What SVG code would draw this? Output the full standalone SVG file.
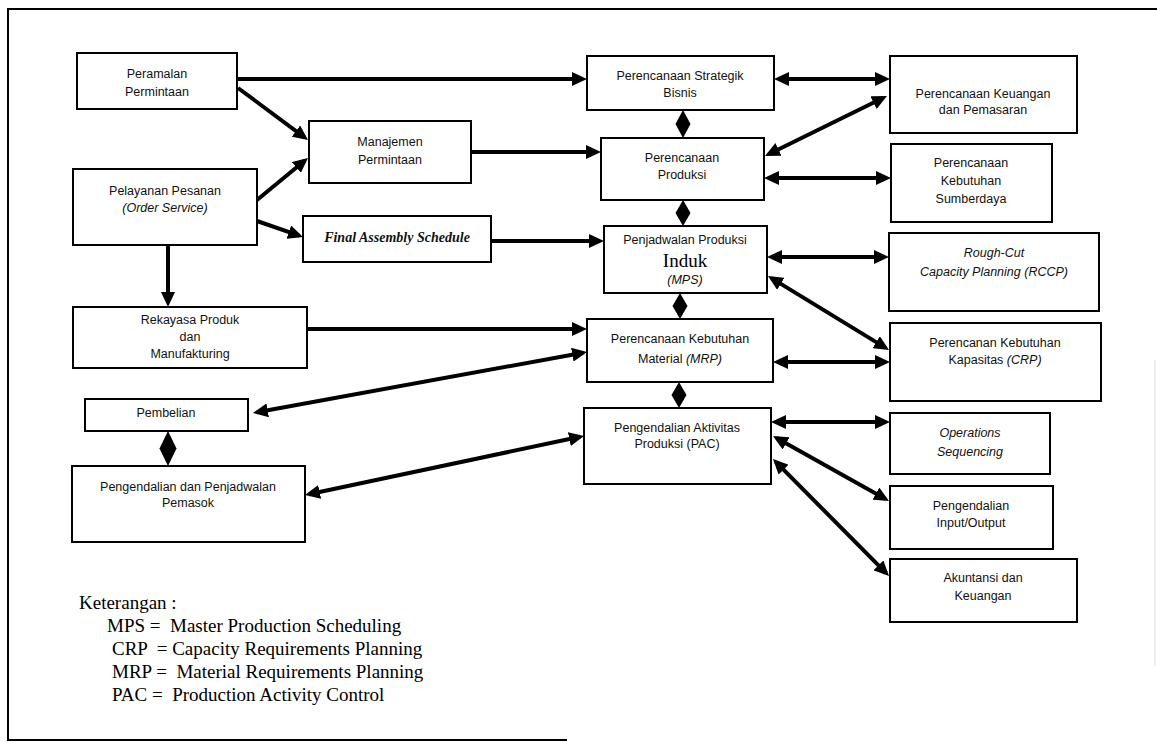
<svg xmlns="http://www.w3.org/2000/svg" width="1157" height="742" viewBox="0 0 1157 742">
<style>
.box{fill:#fff;stroke:#000;stroke-width:2}
.t{font-family:"Liberation Sans",Arial,sans-serif;font-size:12.5px;fill:#111;text-anchor:middle}
.i{font-style:italic}
.fa{font-family:"Liberation Serif","Times New Roman",serif;font-size:14px;font-weight:bold;font-style:italic;fill:#111;text-anchor:middle}
.big{font-family:"Liberation Serif","Times New Roman",serif;font-size:19px;fill:#000;text-anchor:middle}
.c{fill:none;stroke:#000;stroke-width:4}
.e{marker-end:url(#ah)}
.b{marker-start:url(#ah);marker-end:url(#ah)}
.dia{fill:#000}
.leg{font-family:"Liberation Serif","Times New Roman",serif;font-size:19px;fill:#000;white-space:pre}
.frame{fill:none;stroke:#000;stroke-width:2}
</style>
<defs>
<marker id="ah" viewBox="0 0 15 14" refX="11" refY="7" markerWidth="15" markerHeight="14" orient="auto-start-reverse" markerUnits="userSpaceOnUse">
<path d="M0,0 L15,7 L0,14 z" fill="#000"/>
</marker>
</defs>
<rect width="1157" height="742" fill="#fff"/>
<g id="frame">
<path class="frame" d="M8,741 V9 H1157"/>
<path class="frame" d="M8,740 H567"/>
<path d="M1155,360 V665" stroke="#ddd" stroke-width="1" fill="none"/>
</g>
<g id="connectors">
<path class="c e" d="M237,79 H583"/>
<path class="c e" d="M238,88 L304.8,137.6"/>
<path class="c e" d="M257,200 L304.9,160.5"/>
<path class="c e" d="M257,221 L299.2,235.7"/>
<path class="c e" d="M168,245 V303"/>
<path class="c e" d="M471,152 H597"/>
<path class="c e" d="M491,241 H600"/>
<path class="c e" d="M307,329 H583"/>
<path class="c b" d="M256.9,412.3 L583.1,352.7"/>
<path class="c b" d="M308.9,494.2 L580.1,436.8"/>
<path class="c b" d="M778,79 H886"/>
<path class="c b" d="M768.6,154.2 L883.4,97.8"/>
<path class="c b" d="M768,178 H887"/>
<path class="c b" d="M771,257 H885"/>
<path class="c b" d="M771.4,278.1 L885.6,347.9"/>
<path class="c b" d="M777,362 H886"/>
<path class="c b" d="M775,422 H886"/>
<path class="c b" d="M776.5,438 L885.5,499"/>
<path class="c b" d="M775.8,461.8 L886.2,573.2"/>
<polygon class="dia" points="683,110 690.5,124 683,138 675.5,124"/>
<polygon class="dia" points="683,200 690.5,213 683,226 675.5,213"/>
<polygon class="dia" points="680,293 687.5,306 680,319 672.5,306"/>
<polygon class="dia" points="679,382 686.5,395 679,408 671.5,395"/>
<polygon class="dia" points="168,431 176.5,448.5 168,466 159.5,448.5"/>
</g>
<g id="n-peramalan">
<rect class="box" x="77" y="53" width="160" height="56"/>
<text class="t" x="157" y="78">Peramalan</text>
<text class="t" x="157" y="96">Permintaan</text>
</g>
<g id="n-pelayanan">
<rect class="box" x="73" y="169" width="184" height="76"/>
<text class="t" x="165" y="195">Pelayanan Pesanan</text>
<text class="t i" x="165" y="212">(Order Service)</text>
</g>
<g id="n-manajemen">
<rect class="box" x="309" y="121" width="162" height="62"/>
<text class="t" x="390" y="146">Manajemen</text>
<text class="t" x="390" y="164">Permintaan</text>
</g>
<g id="n-fas">
<rect class="box" x="303" y="216" width="188" height="46"/>
<text class="fa" x="397" y="242">Final Assembly Schedule</text>
</g>
<g id="n-rekayasa">
<rect class="box" x="73" y="307" width="234" height="61"/>
<text class="t" x="190" y="324">Rekayasa Produk</text>
<text class="t" x="190" y="341">dan</text>
<text class="t" x="190" y="358">Manufakturing</text>
</g>
<g id="n-pembelian">
<rect class="box" x="85" y="399" width="163" height="32"/>
<text class="t" x="166" y="417">Pembelian</text>
</g>
<g id="n-pemasok">
<rect class="box" x="72" y="466" width="233" height="76"/>
<text class="t" x="188" y="491">Pengendalian dan Penjadwalan</text>
<text class="t" x="188" y="507">Pemasok</text>
</g>
<g id="n-strategik">
<rect class="box" x="587" y="56" width="187" height="54"/>
<text class="t" x="680" y="80">Perencanaan Strategik</text>
<text class="t" x="680" y="97">Bisnis</text>
</g>
<g id="n-produksi">
<rect class="box" x="601" y="138" width="163" height="62"/>
<text class="t" x="682" y="162">Perencanaan</text>
<text class="t" x="682" y="179">Produksi</text>
</g>
<g id="n-mps">
<rect class="box" x="604" y="226" width="163" height="67"/>
<text class="t" x="685" y="244">Penjadwalan Produksi</text>
<text class="big" x="685" y="267">Induk</text>
<text class="t i" x="685" y="284">(MPS)</text>
</g>
<g id="n-mrp">
<rect class="box" x="587" y="319" width="186" height="63"/>
<text class="t" x="680" y="343">Perencanaan Kebutuhan</text>
<text class="t" x="680" y="363">Material <tspan class="i">(MRP)</tspan></text>
</g>
<g id="n-pac">
<rect class="box" x="584" y="408" width="187" height="76"/>
<text class="t" x="677" y="432">Pengendalian Aktivitas</text>
<text class="t" x="677" y="448">Produksi (PAC)</text>
</g>
<g id="n-keuangan">
<rect class="box" x="890" y="56" width="187" height="77"/>
<text class="t" x="983" y="98">Perencanaan Keuangan</text>
<text class="t" x="983" y="114">dan Pemasaran</text>
</g>
<g id="n-sumberdaya">
<rect class="box" x="891" y="144" width="161" height="78"/>
<text class="t" x="971" y="167">Perencanaan</text>
<text class="t" x="971" y="185">Kebutuhan</text>
<text class="t" x="971" y="203">Sumberdaya</text>
</g>
<g id="n-rccp">
<rect class="box" x="889" y="233" width="210" height="78"/>
<text class="t i" x="994" y="257">Rough-Cut</text>
<text class="t i" x="994" y="276">Capacity Planning (RCCP)</text>
</g>
<g id="n-crp">
<rect class="box" x="890" y="323" width="211" height="78"/>
<text class="t" x="995" y="347">Perencanan Kebutuhan</text>
<text class="t" x="995" y="364">Kapasitas <tspan class="i">(CRP)</tspan></text>
</g>
<g id="n-opseq">
<rect class="box" x="890" y="413" width="160" height="61"/>
<text class="t i" x="970" y="437">Operations</text>
<text class="t i" x="970" y="456">Sequencing</text>
</g>
<g id="n-io">
<rect class="box" x="890" y="486" width="163" height="63"/>
<text class="t" x="971" y="510">Pengendalian</text>
<text class="t" x="971" y="527">Input/Output</text>
</g>
<g id="n-akuntansi">
<rect class="box" x="890" y="559" width="187" height="63"/>
<text class="t" x="983" y="582">Akuntansi dan</text>
<text class="t" x="983" y="600">Keuangan</text>
</g>
<g id="legend">
<text class="leg" x="79" y="609">Keterangan :</text>
<text class="leg" x="107" y="632">MPS =  Master Production Scheduling</text>
<text class="leg" x="112" y="655">CRP  = Capacity Requirements Planning</text>
<text class="leg" x="112" y="678">MRP =  Material Requirements Planning</text>
<text class="leg" x="112" y="701">PAC =  Production Activity Control</text>
</g>
</svg>
